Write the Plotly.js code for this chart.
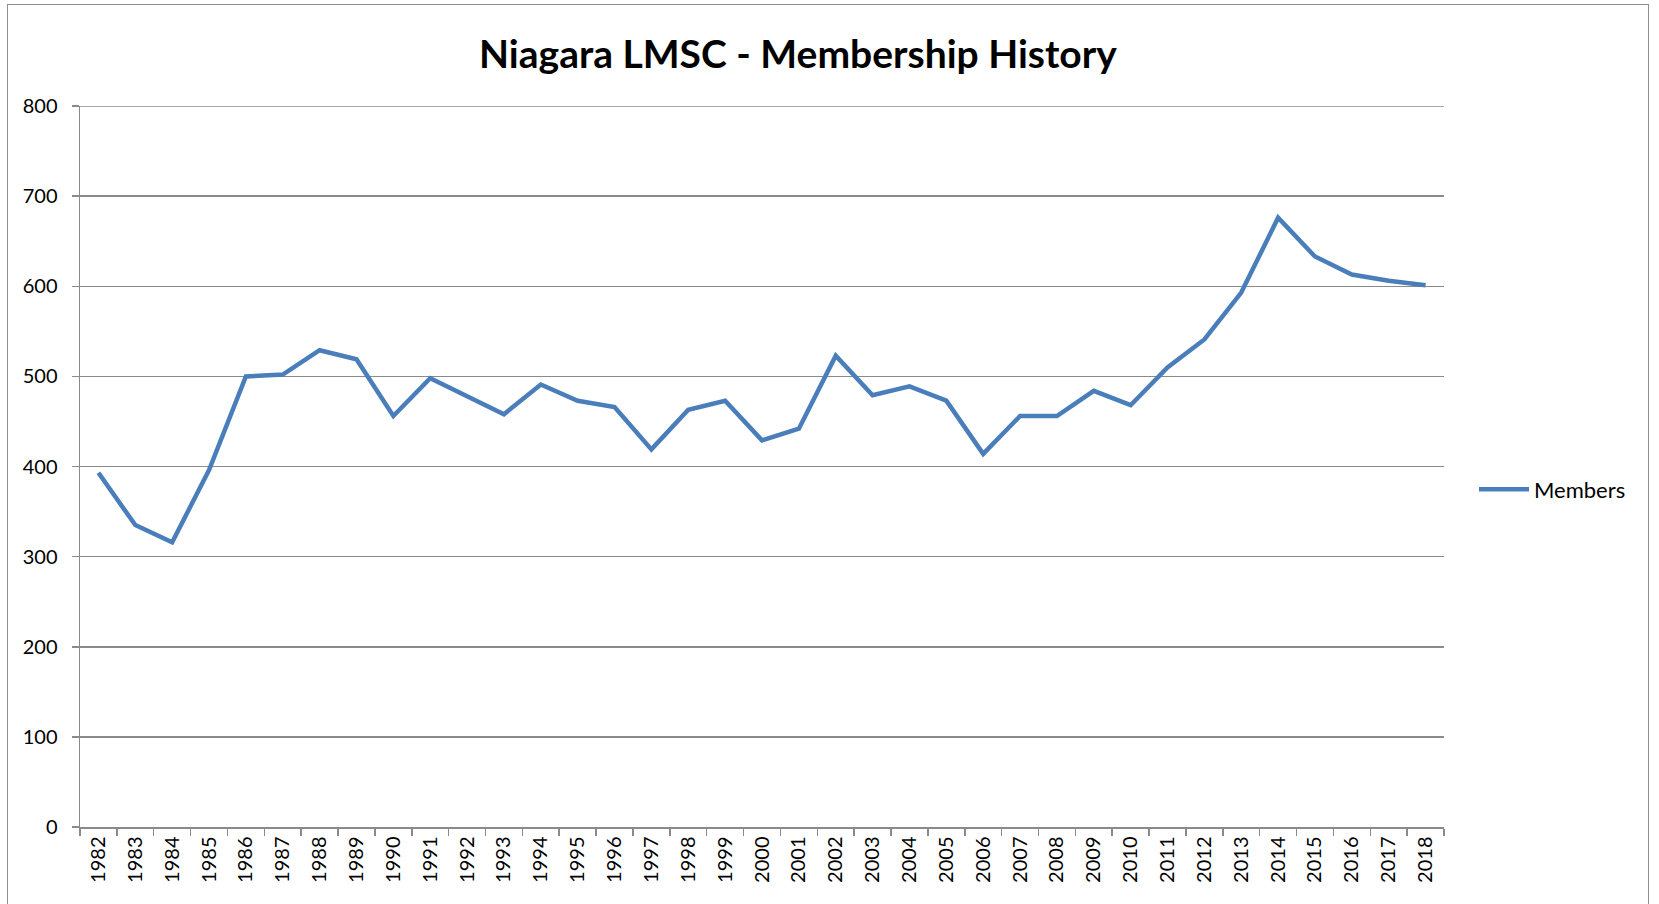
<!DOCTYPE html>
<html>
<head>
<meta charset="utf-8">
<script src="https://cdn.plot.ly/plotly-3.0.1.min.js"></script>
<style>
  html, body { margin: 0; padding: 0; background: #ffffff; }
  #wrap { position: relative; width: 1659px; height: 904px; overflow: hidden; }
  #chart { position: absolute; left: 0; top: 0; width: 1659px; height: 904px; }
  #frame { position: absolute; left: 7px; top: 4px; width: 1640px; height: 920px;
           border: 1.5px solid #8e8e8e; pointer-events: none; }
</style>
</head>
<body>
<div id="wrap">
  <div id="chart"></div>
  <div id="frame"></div>
</div>
<script>
const years = ["1982","1983","1984","1985","1986","1987","1988","1989","1990","1991",
  "1992","1993","1994","1995","1996","1997","1998","1999","2000","2001","2002","2003",
  "2004","2005","2006","2007","2008","2009","2010","2011","2012","2013","2014","2015",
  "2016","2017","2018"];
const members = [393,335,316,396,500,502,529,519,456,498,
  478,458,491,473,466,419,463,473,429,442,523,479,
  489,473,414,456,456,484,468,510,541,593,676,633,
  613,606,601];
const yTicks = [0,100,200,300,400,500,600,700,800];
const seriesName = "Members";
const chartTitle = "Niagara LMSC - Membership History";

const FONT = "Lato, 'Open Sans', sans-serif";
const GRID = "#8a8a8a";

const trace = {
  type: "scatter",
  mode: "lines",
  x: years,
  y: members,
  name: seriesName,
  line: { color: "#4a7ebb", width: 4.5, shape: "linear" },
  showlegend: true
};

const yMax = yTicks[yTicks.length - 1];

const layout = {
  width: 1659,
  height: 904,
  paper_bgcolor: "#ffffff",
  plot_bgcolor: "#ffffff",
  margin: { l: 80, r: 215, t: 106, b: 77, pad: 0 },
  title: {
    text: "<b>" + chartTitle + "</b>",
    font: { family: FONT, size: 39, color: "#000000" },
    x: 0.481, xanchor: "center", xref: "container",
    y: 0.94, yanchor: "middle", yref: "container"
  },
  showlegend: true,
  legend: {
    x: 1.022, xanchor: "left", y: 0.468, yanchor: "middle",
    font: { family: FONT, size: 22, color: "#000000" },
    bgcolor: "rgba(0,0,0,0)", borderwidth: 0,
    itemwidth: 50
  },
  shapes: [{
    type: "line", xref: "paper", yref: "y",
    x0: 0, x1: 1, y0: yMax, y1: yMax,
    line: { color: GRID, width: 1.5 }, layer: "below"
  }],
  xaxis: {
    type: "category",
    range: [-0.5, years.length - 0.5],
    showgrid: false,
    showline: true, linecolor: GRID, linewidth: 1.5,
    ticks: "outside", tickson: "boundaries", ticklen: 7, tickwidth: 1.5, tickcolor: GRID,
    tickangle: -90,
    tickfont: { family: FONT, size: 20, color: "#000000" },
    zeroline: false,
    fixedrange: true
  },
  yaxis: {
    range: [0, yMax],
    tickvals: yTicks,
    ticktext: yTicks.map(String),
    showgrid: true, gridcolor: GRID, gridwidth: 1.5,
    showline: true, linecolor: GRID, linewidth: 1.5,
    ticks: "outside", ticklen: 7, tickwidth: 1.5, tickcolor: GRID,
    tickfont: { family: FONT, size: 20, color: "#000000" },
    ticklabelstandoff: 10,
    zeroline: false,
    fixedrange: true
  }
};

Plotly.newPlot("chart", [trace], layout, { displayModeBar: false, staticPlot: true });
</script>
</body>
</html>
